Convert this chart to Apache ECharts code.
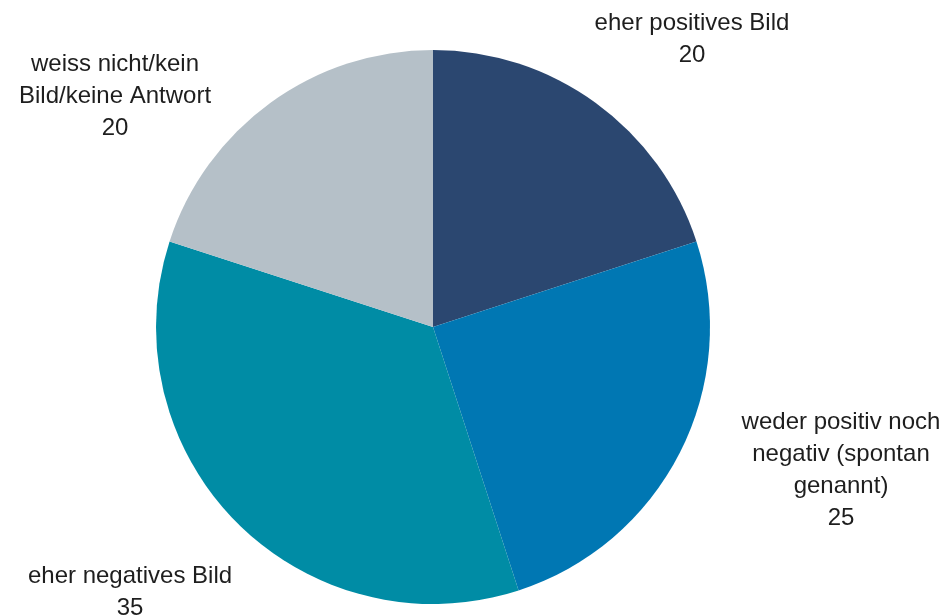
<!DOCTYPE html>
<html>
<head>
<meta charset="utf-8">
<script src="https://cdn.jsdelivr.net/npm/echarts@6/dist/echarts.min.js"></script>
<style>
  html, body { margin: 0; padding: 0; background: #fff; }
  #chart { width: 948px; height: 616px; }
</style>
</head>
<body>
<div id="chart"></div>
<script>
var categories = [
  'eher positives Bild',
  'weder positiv noch\nnegativ (spontan\ngenannt)',
  'eher negatives Bild',
  'weiss nicht/kein\nBild/keine Antwort'
]
var values = [20, 25, 35, 20]

// label centres (px), one per slice
var labelPos = [[692, 39], [841, 470], [130, 592], [115, 96]]

var chart = echarts.init(document.getElementById('chart'))
var option = {
  animation: false,
  color: ['#2b4770', '#0077b3', '#008ca5', '#b5c0c8'],
  series: [
    {
      type: 'pie',
      center: [433, 327],
      radius: 277,
      startAngle: 90,
      clockwise: true,
      data: categories.map(function (c, i) {
        return { name: c, value: values[i] }
      }),
      label: {
        show: true,
        position: 'outside',
        formatter: '{b}\n{c}',
        overflow: 'none',
        fontFamily: 'Liberation Sans, Arial, sans-serif',
        fontSize: 24,
        lineHeight: 32,
        color: '#1e1e1e'
      },
      labelLine: { show: false },
      labelLayout: function (params) {
        var p = labelPos[params.dataIndex]
        return { x: p[0], y: p[1], align: 'center', verticalAlign: 'middle' }
      }
    }
  ]
}
chart.setOption(option)
</script>
</body>
</html>
